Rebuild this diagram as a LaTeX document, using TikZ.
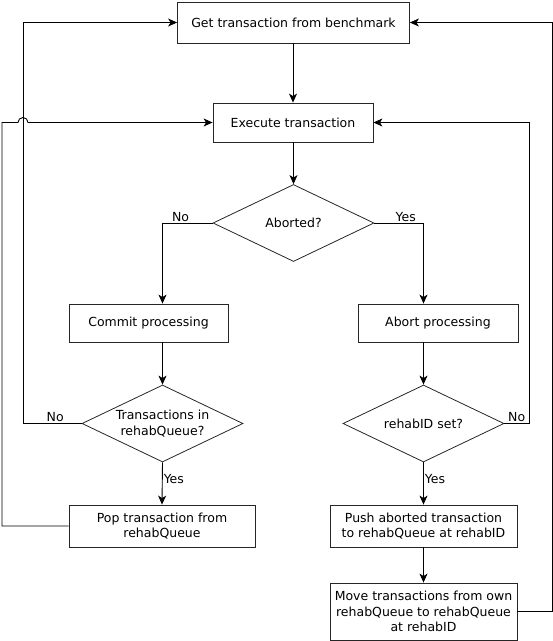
\documentclass[tikz,border=0pt]{standalone}
\usepackage{fontspec}
\setmainfont{DejaVu Sans}
\usetikzlibrary{shapes.geometric,arrows.meta}
\begin{document}
\begin{tikzpicture}[x=1pt,y=-1pt,
  every node/.style={font=\fontsize{12.5}{15.5}\selectfont},
  box/.style={draw=black!85, line width=0.8pt, rectangle, inner sep=0pt, align=center},
  dia/.style={draw=black!85, line width=0.8pt, diamond, inner sep=0pt, minimum width=161pt, minimum height=77pt},
  conn/.style={line width=0.9pt, draw=black},
  arr/.style={conn, -{Stealth[length=9pt,width=8pt,inset=2.5pt]}},
  lab/.style={inner sep=1pt}]
\useasboundingbox (0,0) rectangle (553,641);

\node[box, minimum width=232pt, minimum height=41pt] (get) at (293.5,22.5) {Get transaction from benchmark};
\node[box, minimum width=160pt, minimum height=39pt] (exec) at (293,122.5) {Execute transaction};
\node[dia, label={center:Aborted?}] (ab) at (293.5,223) {};
\node[box, minimum width=159pt, minimum height=38pt] (commit) at (148.5,323) {Commit processing};
\node[box, minimum width=160pt, minimum height=38pt] (abortp) at (438,323) {Abort processing};
\node[dia, label={[align=center]center:Transactions in\\rehabQueue?}] (tq) at (162.5,423.5) {};
\node[dia, label={center:rehabID set?}] (rid) at (423.5,423.5) {};
\node[box, minimum width=186pt, minimum height=42pt] (pop) at (162,526) {Pop transaction from\\rehabQueue};
\node[box, minimum width=187pt, minimum height=42pt] (push) at (423.5,526) {Push aborted transaction\\to rehabQueue at rehabID};
\node[box, minimum width=187pt, minimum height=57pt] (move) at (423.5,611.5) {Move transactions from own\\rehabQueue to rehabQueue\\at rehabID};

\draw[arr] (get.south -| exec.north) -- (exec.north);
\draw[arr] (exec.south -| ab.north) -- (ab.north);
\draw[arr] (ab.west) -| node[lab, pos=0.32, above] {No} (commit.north -| tq.north);
\draw[arr] (ab.east) -| node[lab, pos=0.32, above] {Yes} (abortp.north -| rid.north);
\draw[arr] (commit.south -| tq.north) -- (tq.north);
\draw[arr] (abortp.south -| rid.north) -- (rid.north);
\coordinate (tqc) at (23,423.5);
\draw[arr] (tq.west) -- node[lab, above, pos=0.45] {No} (tqc) |- (get.west);
\draw[arr] (tq.south) -- node[lab, right, pos=0.4] {Yes} (pop.north);
\coordinate (popc) at (2,526);
\draw[arr] (pop.west) -- (popc) -- (2,122.5) -- (18,122.5) arc[start angle=180, end angle=0, radius=5pt] -- (exec.west);
\coordinate (ridc) at (529,423.5);
\draw[arr] (rid.east) -- node[lab, above, pos=0.5] {No} (ridc) |- (exec.east);
\draw[arr] (rid.south) -- node[lab, right, pos=0.4] {Yes} (push.north);
\draw[arr] (push.south) -- (move.north);
\coordinate (movec) at (552,611.5);
\draw[arr] (move.east) -- (movec) |- (get.east);
\end{tikzpicture}
\end{document}
